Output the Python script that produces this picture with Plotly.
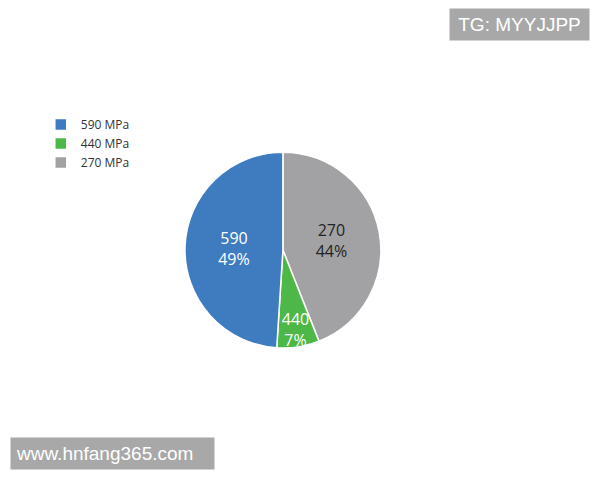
import plotly.graph_objects as go

# slice order clockwise from 12 o'clock
labels = ["270 MPa", "440 MPa", "590 MPa"]
short = ["270", "440", "590"]
values = [44, 7, 49]
pct_text = ["44%", "7%", "49%"]
colors = ["#a2a2a5", "#4db848", "#3f7cbf"]
text_colors = ["#222222", "#ffffff", "#ffffff"]

texts = [f"{s}<br>{p}" for s, p in zip(short, pct_text)]

fig = go.Figure(go.Pie(
    labels=labels,
    values=values,
    text=texts,
    textinfo="text",
    textposition="inside",
    insidetextorientation="horizontal",
    insidetextfont=dict(color=text_colors, size=16, family="Open Sans, Arial, sans-serif"),
    marker=dict(colors=colors, line=dict(color="white", width=1.5)),
    sort=False,
    direction="clockwise",
    rotation=0,
    hole=0,
    domain=dict(x=[0.308, 0.635], y=[0.275, 0.683]),
))

fig.update_layout(
    width=600, height=480,
    margin=dict(l=0, r=0, t=0, b=0),
    paper_bgcolor="white",
    plot_bgcolor="white",
    font=dict(family="Open Sans, Arial, sans-serif", color="#333333"),
    uniformtext=dict(minsize=16, mode="show"),
    showlegend=True,
    legend=dict(
        x=0.068, y=1 - 110 / 480, xanchor="left", yanchor="top",
        font=dict(size=12, color="#333333"),
        itemwidth=30,
        traceorder="reversed",
        tracegroupgap=0,
        bgcolor="rgba(0,0,0,0)",
    ),
    annotations=[
        dict(text="TG: MYYJJPP", x=590 / 600, y=1 - 8 / 480, xref="paper", yref="paper",
             xanchor="right", yanchor="top", showarrow=False, width=129, align="center",
             font=dict(size=19, color="white", family="Liberation Sans, Arial, sans-serif"),
             bgcolor="#a8a8a8", borderpad=5),
        dict(text="www.hnfang365.com", x=10 / 600, y=1 - 470 / 480, xref="paper", yref="paper",
             xanchor="left", yanchor="bottom", showarrow=False, width=193, align="left",
             font=dict(size=19, color="white", family="Liberation Sans, Arial, sans-serif"),
             bgcolor="#a8a8a8", borderpad=5),
    ],
)

fig.write_html("out.html", config={"displayModeBar": False},
               post_script="document.body.style.margin='0';")
